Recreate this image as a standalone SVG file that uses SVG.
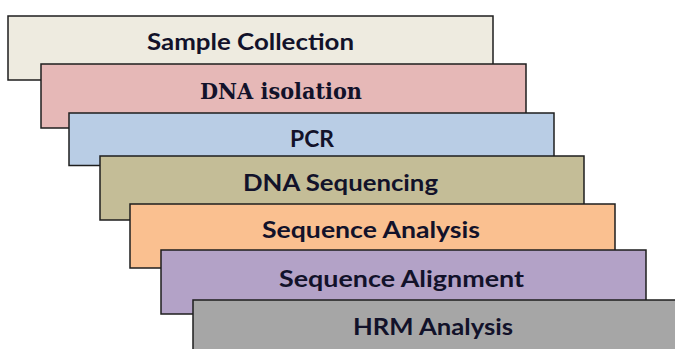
<svg xmlns="http://www.w3.org/2000/svg" width="675" height="349" viewBox="0 0 675 349">
<style>
rect.box { stroke: #1e1e1e; stroke-width: 1.5; }
text.lbl { font-family: Lato, "Open Sans", sans-serif; font-weight: bold; font-size: 23px; fill: #12122a; }
text.ser { font-family: "DejaVu Serif", "Liberation Serif", serif; font-weight: bold; font-size: 22px; fill: #12122a; }
</style>
<rect width="675" height="349" fill="#ffffff"/>
<g id="sample-collection">
<rect class="box" x="8" y="16" width="485" height="64" fill="#EEEBE0"/>
<text class="lbl" x="147" y="49.5" textLength="207" lengthAdjust="spacingAndGlyphs">Sample Collection</text>
</g>
<g id="dna-isolation">
<rect class="box" x="41" y="64" width="485" height="64" fill="#E6B8B7"/>
<text class="ser" x="200" y="98.7" textLength="162" lengthAdjust="spacingAndGlyphs">DNA isolation</text>
</g>
<g id="pcr">
<rect class="box" x="69" y="113" width="485" height="52.5" fill="#B9CDE5"/>
<text class="lbl" x="290" y="147" textLength="44" lengthAdjust="spacingAndGlyphs">PCR</text>
</g>
<g id="dna-sequencing">
<rect class="box" x="100" y="156" width="484" height="64" fill="#C4BD97"/>
<text class="lbl" x="243" y="191" textLength="195" lengthAdjust="spacingAndGlyphs">DNA Sequencing</text>
</g>
<g id="sequence-analysis">
<rect class="box" x="130" y="204" width="485" height="64" fill="#FAC090"/>
<text class="lbl" x="262" y="238" textLength="218" lengthAdjust="spacingAndGlyphs">Sequence Analysis</text>
</g>
<g id="sequence-alignment">
<rect class="box" x="161" y="250" width="485" height="64" fill="#B3A2C7"/>
<text class="lbl" x="279" y="287" textLength="245" lengthAdjust="spacingAndGlyphs">Sequence Alignment</text>
</g>
<g id="hrm-analysis">
<rect class="box" x="193" y="300" width="490" height="60" fill="#A6A6A6"/>
<text class="lbl" x="353" y="335" textLength="160" lengthAdjust="spacingAndGlyphs">HRM Analysis</text>
</g>
<g id="connectors"></g>
</svg>
